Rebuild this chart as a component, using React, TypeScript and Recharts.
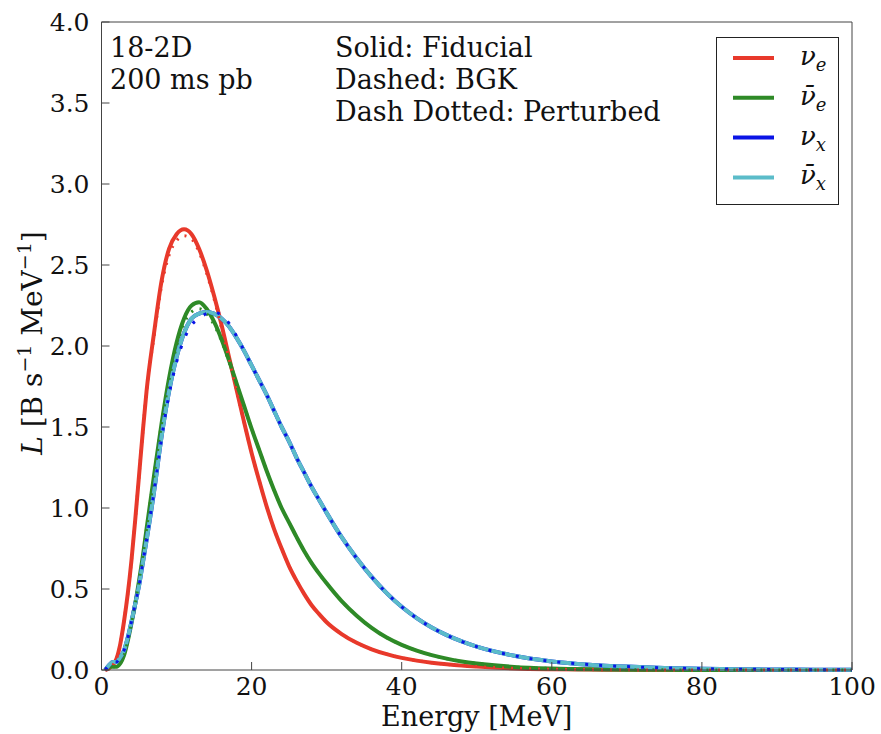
import { LineChart, Line, XAxis, YAxis, Legend } from 'recharts';

// energy grid [MeV]
const energy = [
  0.5, 1, 1.5, 2, 2.5, 3, 3.5, 4, 4.5, 5, 5.5, 6,
  7, 8, 9, 10, 11, 12, 13, 14, 15, 16, 17, 18, 19, 20,
  21, 22, 23, 24, 25, 26, 27, 28, 29, 30,
  32, 34, 36, 38, 40, 42, 44, 46, 48, 50,
  55, 60, 65, 70, 75, 80, 85, 90, 95, 100,
];

// fiducial (solid)
const nuE = [
  0, 0.01, 0.03, 0.07, 0.16, 0.3, 0.47, 0.68, 0.93, 1.2, 1.47, 1.72,
  2.08, 2.4, 2.6, 2.69, 2.72, 2.69, 2.6, 2.47, 2.31, 2.13, 1.93, 1.73, 1.53, 1.34,
  1.17, 1.01, 0.87, 0.75, 0.64, 0.55, 0.47, 0.4, 0.345, 0.295,
  0.222, 0.168, 0.128, 0.098, 0.075, 0.058, 0.045, 0.035, 0.027, 0.021,
  0.01, 0.005, 0.0025, 0.001, 0, 0, 0, 0, 0, 0,
];
const nuEbar = [
  0, 0.02, 0.02, 0.02, 0.04, 0.09, 0.18, 0.29, 0.41, 0.55, 0.7, 0.87,
  1.2, 1.52, 1.8, 2.02, 2.17, 2.25, 2.27, 2.23, 2.15, 2.04, 1.91, 1.77, 1.63, 1.49,
  1.36, 1.23, 1.11, 1.0, 0.91, 0.82, 0.735, 0.66, 0.595, 0.535,
  0.425, 0.335, 0.26, 0.2, 0.155, 0.12, 0.092, 0.07, 0.053, 0.04,
  0.019, 0.009, 0.004, 0.002, 0.001, 0.0005, 0, 0, 0, 0,
];
const nuX = [
  0, 0.03, 0.05, 0.05, 0.08, 0.12, 0.2, 0.3, 0.41, 0.52, 0.66, 0.8,
  1.1, 1.44, 1.72, 1.93, 2.08, 2.17, 2.2, 2.21, 2.2, 2.17, 2.12, 2.05, 1.97, 1.88,
  1.79, 1.7, 1.6, 1.5, 1.41, 1.31, 1.22, 1.13, 1.05, 0.97,
  0.82, 0.69, 0.575, 0.475, 0.39, 0.32, 0.262, 0.215, 0.176, 0.144,
  0.088, 0.053, 0.033, 0.021, 0.013, 0.008, 0.005, 0.003, 0.002, 0.001,
];
const nuXbar = [
  0, 0.03, 0.05, 0.05, 0.08, 0.12, 0.2, 0.3, 0.41, 0.52, 0.66, 0.8,
  1.1, 1.44, 1.72, 1.93, 2.08, 2.17, 2.2, 2.21, 2.2, 2.17, 2.12, 2.05, 1.97, 1.88,
  1.79, 1.7, 1.6, 1.5, 1.41, 1.31, 1.22, 1.13, 1.05, 0.97,
  0.82, 0.69, 0.575, 0.475, 0.39, 0.32, 0.262, 0.215, 0.176, 0.144,
  0.088, 0.053, 0.033, 0.021, 0.013, 0.008, 0.005, 0.003, 0.002, 0.001,
];

// BGK (dashed)
const nuEBgk = [
  0, 0.01, 0.03, 0.07, 0.16, 0.3, 0.47, 0.68, 0.93, 1.2, 1.47, 1.72,
  2.06, 2.37, 2.56, 2.65, 2.68, 2.66, 2.58, 2.45, 2.29, 2.11, 1.92, 1.72, 1.53, 1.34,
  1.17, 1.01, 0.87, 0.75, 0.64, 0.55, 0.47, 0.4, 0.345, 0.295,
  0.222, 0.168, 0.128, 0.098, 0.075, 0.058, 0.045, 0.035, 0.027, 0.021,
  0.01, 0.005, 0.0025, 0.001, 0, 0, 0, 0, 0, 0,
];
const nuEbarBgk = [
  0, 0.02, 0.02, 0.02, 0.04, 0.09, 0.18, 0.29, 0.41, 0.55, 0.7, 0.87,
  1.2, 1.52, 1.79, 2.0, 2.14, 2.21, 2.23, 2.2, 2.13, 2.03, 1.9, 1.77, 1.63, 1.49,
  1.36, 1.23, 1.11, 1.0, 0.91, 0.82, 0.735, 0.66, 0.595, 0.535,
  0.425, 0.335, 0.26, 0.2, 0.155, 0.12, 0.092, 0.07, 0.053, 0.04,
  0.019, 0.009, 0.004, 0.002, 0.001, 0.0005, 0, 0, 0, 0,
];
const nuXBgk = [
  0, 0.03, 0.05, 0.05, 0.08, 0.12, 0.2, 0.3, 0.41, 0.52, 0.66, 0.8,
  1.1, 1.43, 1.7, 1.9, 2.04, 2.13, 2.17, 2.2, 2.21, 2.19, 2.14, 2.06, 1.97, 1.88,
  1.79, 1.7, 1.6, 1.5, 1.41, 1.31, 1.22, 1.13, 1.05, 0.97,
  0.82, 0.69, 0.575, 0.475, 0.39, 0.32, 0.262, 0.215, 0.176, 0.144,
  0.088, 0.053, 0.033, 0.021, 0.013, 0.008, 0.005, 0.003, 0.002, 0.001,
];

const xTicks = [0, 20, 40, 60, 80, 100];
const yTicks = [0, 0.5, 1, 1.5, 2, 2.5, 3, 3.5, 4];

const RED = '#e8392b';
const GREEN = '#2e8a27';
const BLUE = '#0a14e6';
const CYAN = '#5bbcc9';
const FONT = 'DejaVu Serif';

const data = energy.map((e, i) => ({
  e,
  nuE: nuE[i],
  nuEbar: nuEbar[i],
  nuX: nuX[i],
  nuXbar: nuXbar[i],
  nuEBgk: nuEBgk[i],
  nuEbarBgk: nuEbarBgk[i],
  nuXBgk: nuXBgk[i],
}));

const legendOrder = ['nu_e', 'nubar_e', 'nu_x', 'nubar_x'];
const legendLabels: Record<string, { bar: boolean; sub: string }> = {
  nu_e: { bar: false, sub: 'e' },
  nubar_e: { bar: true, sub: 'e' },
  nu_x: { bar: false, sub: 'x' },
  nubar_x: { bar: true, sub: 'x' },
};

function LegendBox({ payload }: any) {
  const items = legendOrder
    .map((name) => (payload || []).find((p: any) => p.value === name))
    .filter(Boolean);
  return (
    <svg width={123} height={168}>
      <rect x={0.5} y={0.5} width={122} height={167} fill="#fff" stroke="#222" />
      {items.map((p: any, i: number) => {
        const y = 21 + i * 39.8;
        const lab = legendLabels[p.value];
        return (
          <g key={p.value}>
            <line x1={17} x2={58} y1={y} y2={y} stroke={p.color} strokeWidth={4} />
            <text x={84} y={y + 7} fontFamily={FONT} fontSize={26} fontStyle="italic" fill="#111">
              {lab.bar ? 'ν\u0304' : 'ν'}
              <tspan dy={6} fontSize={18}>{lab.sub}</tspan>
            </text>
          </g>
        );
      })}
    </svg>
  );
}

function YLabel({ viewBox }: any) {
  const cy = viewBox ? viewBox.y + viewBox.height / 2 - 3 : 343;
  const cx = 42;
  return (
    <text x={cx} y={cy} transform={`rotate(-90, ${cx}, ${cy})`} textAnchor="middle" fontFamily={FONT} fontSize={28} fill="#111">
      <tspan fontStyle="italic">L</tspan> [B s<tspan baselineShift="super" fontSize={19}>−1</tspan> MeV<tspan baselineShift="super" fontSize={19}>−1</tspan>]
    </text>
  );
}

function XLabel({ viewBox }: any) {
  const cx = viewBox ? viewBox.x + viewBox.width / 2 : 477;
  return (
    <text x={cx} y={726} textAnchor="middle" fontFamily={FONT} fontSize={27} fill="#111">
      Energy [MeV]
    </text>
  );
}

const tickStyle = { fontFamily: FONT, fontSize: 25, fill: '#111' };
const axisColor = '#444';

export default function App() {
  return (
    <div style={{ position: 'absolute', left: 0, top: 0, width: 881, height: 734, background: '#fff' }}>
      <LineChart
        width={881}
        height={734}
        data={data}
        margin={{ top: 21, right: 28, bottom: 0, left: 20 }}
      >
        <XAxis
          xAxisId="b"
          dataKey="e"
          type="number"
          domain={[0, 100]}
          ticks={xTicks}
          height={64}
          stroke={axisColor}
          tickSize={-8}
          tickMargin={15}
          tick={tickStyle}
          label={<XLabel />}
        />
        <XAxis
          xAxisId="t"
          orientation="top"
          dataKey="e"
          type="number"
          domain={[0, 100]}
          ticks={xTicks}
          height={1}
          stroke={axisColor}
          tickSize={-8}
          tick={false}
        />
        <YAxis
          yAxisId="l"
          type="number"
          domain={[0, 4]}
          ticks={yTicks}
          width={81.5}
          stroke={axisColor}
          tickSize={-8}
          tickMargin={20}
          tick={tickStyle}
          tickFormatter={(v: number) => v.toFixed(1)}
          label={<YLabel />}
        />
        <YAxis
          yAxisId="r"
          orientation="right"
          type="number"
          domain={[0, 4]}
          ticks={yTicks}
          width={1}
          stroke={axisColor}
          tickSize={-8}
          tick={false}
        />
        <Legend
          layout="vertical"
          align="center"
          verticalAlign="middle"
          content={<LegendBox />}
          wrapperStyle={{ left: 716, top: 37, width: 123, height: 168 }}
        />
        <Line xAxisId="b" yAxisId="l" name="nu_e" dataKey="nuE" type="monotone" stroke={RED} strokeWidth={4} dot={false} isAnimationActive={false} />
        <Line xAxisId="b" yAxisId="l" name="nubar_e" dataKey="nuEbar" type="monotone" stroke={GREEN} strokeWidth={4} dot={false} isAnimationActive={false} />
        <Line xAxisId="b" yAxisId="l" name="nu_x" dataKey="nuX" type="monotone" stroke={BLUE} strokeWidth={4} dot={false} isAnimationActive={false} />
        <Line xAxisId="b" yAxisId="l" name="nubar_x" dataKey="nuXbar" type="monotone" stroke={CYAN} strokeWidth={4} dot={false} isAnimationActive={false} />
        <Line xAxisId="b" yAxisId="l" name="nu_e BGK" legendType="none" dataKey="nuEBgk" type="monotone" stroke={RED} strokeWidth={3} strokeDasharray="2 7" dot={false} isAnimationActive={false} />
        <Line xAxisId="b" yAxisId="l" name="nubar_e BGK" legendType="none" dataKey="nuEbarBgk" type="monotone" stroke={GREEN} strokeWidth={3} strokeDasharray="2 7" dot={false} isAnimationActive={false} />
        <Line xAxisId="b" yAxisId="l" name="nu_x BGK" legendType="none" dataKey="nuXBgk" type="monotone" stroke={BLUE} strokeWidth={3} strokeDasharray="3 11" dot={false} isAnimationActive={false} />
      </LineChart>
      <svg width={881} height={734} style={{ position: 'absolute', left: 0, top: 0, pointerEvents: 'none' }}>
        <g fontFamily={FONT} fontSize={27} fill="#111">
          <text x={110} y={57}>18-2D</text>
          <text x={110} y={89}>200 ms pb</text>
          <text x={335} y={57}>Solid: Fiducial</text>
          <text x={335} y={89}>Dashed: BGK</text>
          <text x={335} y={121}>Dash Dotted: Perturbed</text>
        </g>
      </svg>
    </div>
  );
}
